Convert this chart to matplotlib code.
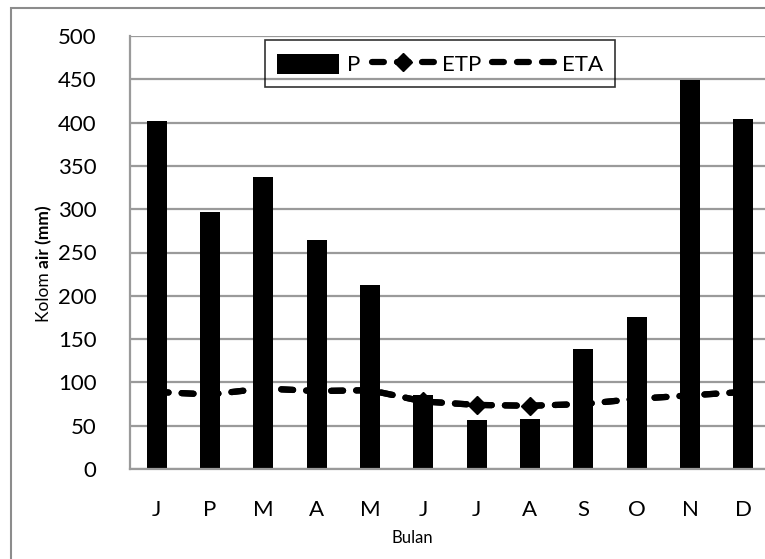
import matplotlib
matplotlib.use("Agg")
import matplotlib.pyplot as plt
from matplotlib.patches import Rectangle
from matplotlib.legend_handler import HandlerPatch

months = ["J", "P", "M", "A", "M", "J", "J", "A", "S", "O", "N", "D"]
P = [402, 297, 337, 265, 213, 85, 57, 58, 138, 175, 449, 404]
ETP = [89, 86, 93, 90, 91, 78, 74, 73, 75, 81, 85, 89]
ETA = [89, 86, 93, 90, 91, 78, 74, 73, 75, 81, 85, 89]
yticks = [0, 50, 100, 150, 200, 250, 300, 350, 400, 450, 500]

FONT = ["Lato", "DejaVu Sans"]
plt.rcParams['font.family'] = FONT

W, H = 765, 559
fig = plt.figure(figsize=(W / 100, H / 100), dpi=100)
ax = fig.add_axes([130 / W, 1 - 469 / H, 640 / W, 433 / H])

x = list(range(len(months)))
bars = ax.bar(x, P, width=0.38, color="black", zorder=2, label="P")
dash = (1.9, 2.1)
l1, = ax.plot(x, ETP, color="black", lw=4.5, ls=(0, dash), dash_capstyle="round",
              marker="D", ms=9.5, zorder=3, label="ETP")
l2, = ax.plot(x, ETA, color="black", lw=4.5, ls=(0, dash), dash_capstyle="round",
              zorder=3, label="ETA")

ax.set_xlim(-0.5, 11.5)
ax.set_ylim(0, 500)
ax.set_yticks(yticks)
ax.set_xticks(x)
ax.set_xticklabels(months)
ax.tick_params(axis="both", length=0, labelsize=16, colors="black")
ax.tick_params(axis="y", pad=24)
ax.tick_params(axis="x", pad=22)
ax.grid(axis="y", color="#9a9a9a", lw=1.6, zorder=0)
ax.set_axisbelow(True)
for s in ["top", "right"]:
    ax.spines[s].set_visible(False)
for s in ["left", "bottom"]:
    ax.spines[s].set_color("#9a9a9a")
    ax.spines[s].set_linewidth(1.6)


def short_patch(legend, orig_handle, xdescent, ydescent, width, height, fontsize):
    h = 0.9 * fontsize
    return Rectangle((-xdescent, -ydescent + (height - h) / 2), width, h)


leg = ax.legend(handles=[bars.patches[0], l1, l2], labels=["P", "ETP", "ETA"],
                handler_map={Rectangle: HandlerPatch(patch_func=short_patch)},
                loc="upper left", bbox_to_anchor=((265 - 130) / 640, (469 - 40) / 433),
                ncol=3, frameon=True, fancybox=False, fontsize=16,
                handlelength=2.8, handleheight=1.2, handletextpad=0.35,
                columnspacing=0.5, borderpad=0.55, borderaxespad=0)
leg.get_frame().set_edgecolor("black")
leg.get_frame().set_linewidth(1.2)
leg.get_frame().set_facecolor("none")

# y label: "Kolom" regular + "air (mm)" bold
t1 = fig.text(44 / W, 1 - 322 / H, "Kolom ", rotation=90, ha="center", va="bottom",
              fontsize=12.5, family=FONT)
ax.annotate("air (mm)", xy=(0.5, 1.0), xycoords=t1, rotation=90, ha="center",
            va="bottom", fontsize=12.5, fontweight="bold", family=FONT,
            annotation_clip=False)

fig.text(412 / W, 1 - 538 / H, "Bulan", ha="center", va="center", fontsize=12, family=FONT)

# outer chart border
fig.add_artist(Rectangle((11 / W, -0.1), 2.0, 1.1 - 8 / H, transform=fig.transFigure,
                         fill=False, edgecolor="#8c8c8c", lw=1.5))

fig.savefig("out.png", dpi=100)
